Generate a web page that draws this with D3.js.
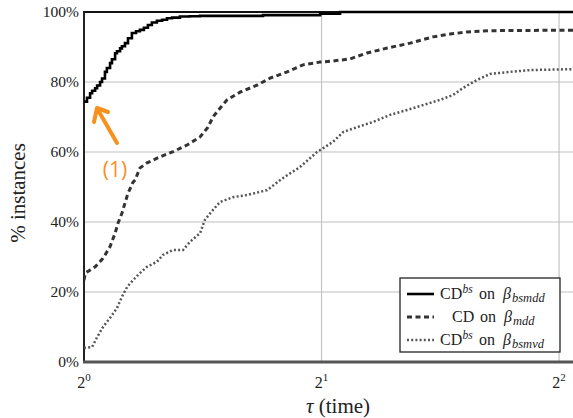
<!DOCTYPE html>
<html>
<head>
<meta charset="utf-8">
<script src="https://cdn.jsdelivr.net/npm/d3@7"></script>
<style>
  body { margin: 0; background: #fff; }
  svg { display: block; }
  text { font-family: "Liberation Serif", "DejaVu Serif", serif; fill: #222; }
</style>
</head>
<body>
<div id="root"></div>
<script>
// tau (time) vs % instances
const solidTau = [1, 1.0088, 1.018, 1.024, 1.033, 1.039, 1.048, 1.054, 1.063, 1.069, 1.079, 1.085, 1.095, 1.101, 1.111, 1.117, 1.127, 1.137, 1.150, 1.164, 1.177, 1.191, 1.205, 1.219, 1.237, 1.256, 1.274, 1.293, 1.323, 1.362, 1.403, 1.686, 1.992, 2.111, 4.19];
const solidPct = [74.4, 75.5, 76.8, 77.5, 78.2, 79, 80, 81, 82.9, 84, 85.4, 86.5, 88.2, 88.8, 89.6, 90.2, 91.1, 92.5, 94, 94.5, 94.9, 95.5, 96.3, 97, 97.5, 97.8, 98.2, 98.4, 98.7, 98.8, 98.9, 99.1, 99.5, 100, 100];

const dashTau = [1, 1.004, 1.033, 1.057, 1.079, 1.095, 1.104, 1.117, 1.127, 1.137, 1.154, 1.161, 1.177, 1.202, 1.248, 1.297, 1.351, 1.403, 1.436, 1.457, 1.487, 1.518, 1.577, 1.657, 1.721, 1.809, 1.895, 1.992, 2.068, 2.174, 2.284, 2.422, 2.590, 2.769, 2.910, 3.059, 3.204, 3.368, 4.19];
const dashPct = [23.4, 25.4, 27.2, 29.6, 33, 36.8, 39.6, 42.5, 45.4, 48.2, 51.4, 52, 55.4, 56.9, 58.6, 60.1, 62, 64.3, 67.1, 70, 72.5, 74.9, 77.1, 79.1, 81.1, 82.9, 84.9, 85.7, 86, 86.6, 88.3, 89.7, 91.1, 92.9, 93.7, 94.3, 94.6, 94.7, 94.8];

const dotTau = [1, 1.024, 1.039, 1.057, 1.079, 1.101, 1.117, 1.134, 1.154, 1.177, 1.202, 1.237, 1.259, 1.297, 1.335, 1.362, 1.403, 1.423, 1.445, 1.487, 1.545, 1.609, 1.671, 1.706, 1.788, 1.878, 1.974, 2.068, 2.130, 2.218, 2.325, 2.443, 2.567, 2.689, 2.826, 2.936, 3.023, 3.149, 3.270, 3.467, 3.675, 4.19];
const dotPct = [4, 4.3, 7.1, 10, 12.6, 15.4, 18.6, 21.4, 23.4, 25.4, 27.2, 28.6, 30.6, 32, 32, 34.3, 36.8, 40.6, 42.5, 45.7, 47.1, 47.7, 48.6, 49.1, 52.6, 55.7, 60, 62.9, 65.7, 67.1, 68.6, 70.6, 72, 73.4, 74.9, 76.3, 78.3, 80.6, 82.3, 82.9, 83.4, 83.7];

const xTicks = [1, 2, 4];
const yTicks = [0, 20, 40, 60, 80, 100];

const width = 573, height = 418;
const m = { left: 84, right: 575, top: 12, bottom: 362 };

const svg = d3.select("#root").append("svg")
  .attr("width", width).attr("height", height);

const x = d3.scaleLog().base(2).domain([1, 4.19]).range([m.left, m.right]);
const y = d3.scaleLinear().domain([0, 100]).range([m.bottom, m.top]);

// grid
svg.append("g").selectAll("line").data(yTicks.filter(d => d > 0 && d < 100)).join("line")
  .attr("x1", m.left).attr("x2", m.right)
  .attr("y1", d => y(d)).attr("y2", d => y(d))
  .attr("stroke", "#d4d4d4").attr("stroke-width", 1.5);
svg.append("g").selectAll("line").data(xTicks.filter(d => d > 1)).join("line")
  .attr("x1", d => x(d)).attr("x2", d => x(d))
  .attr("y1", m.top).attr("y2", m.bottom)
  .attr("stroke", "#c4c4c4").attr("stroke-width", 1.2);

// frame
svg.append("line").attr("x1", m.left).attr("x2", m.right).attr("y1", m.top).attr("y2", m.top)
  .attr("stroke", "#111").attr("stroke-width", 2);
svg.append("line").attr("x1", m.left).attr("x2", m.left).attr("y1", m.top - 1).attr("y2", m.bottom + 1)
  .attr("stroke", "#222").attr("stroke-width", 2);
svg.append("line").attr("x1", m.left - 1).attr("x2", m.right).attr("y1", m.bottom).attr("y2", m.bottom)
  .attr("stroke", "#555").attr("stroke-width", 3);

// tick labels
svg.append("g").selectAll("text").data(yTicks).join("text")
  .attr("x", m.left - 5).attr("y", d => y(d) + 5)
  .attr("text-anchor", "end").attr("font-size", 15.5)
  .text(d => d + "%");

const xl = svg.append("g").selectAll("text").data(xTicks).join("text")
  .attr("x", d => x(d)).attr("y", m.bottom + 26)
  .attr("text-anchor", "middle").attr("font-size", 16);
xl.append("tspan").text("2");
xl.append("tspan").attr("dy", -7).attr("font-size", 11).text(d => Math.log2(d));

// axis titles
const xt = svg.append("text").attr("x", 338).attr("y", 413)
  .attr("text-anchor", "middle").attr("font-size", 21);
xt.append("tspan").attr("font-style", "italic").text("τ");
xt.append("tspan").text(" (time)");

svg.append("text")
  .attr("transform", `translate(25,${193}) rotate(-90)`)
  .attr("text-anchor", "middle").attr("font-size", 21)
  .text("% instances");

// series
const series = [
  { tau: solidTau, pct: solidPct, color: "#000", w: 2.6, dash: null, curve: d3.curveStepAfter },
  { tau: dashTau, pct: dashPct, color: "#333", w: 3, dash: "5,3.5", curve: d3.curveLinear },
  { tau: dotTau, pct: dotPct, color: "#555", w: 2.5, dash: "2,2.2", curve: d3.curveLinear }
];

svg.append("defs").append("clipPath").attr("id", "plot")
  .append("rect").attr("x", m.left).attr("y", m.top - 3).attr("width", m.right - m.left).attr("height", m.bottom - m.top + 3);

const lines = svg.append("g").attr("clip-path", "url(#plot)");
for (const s of series) {
  const line = d3.line().curve(s.curve).x(i => x(s.tau[i])).y(i => y(s.pct[i]));
  lines.append("path")
    .attr("d", line(d3.range(s.tau.length)))
    .attr("fill", "none")
    .attr("stroke", s.color)
    .attr("stroke-width", s.w)
    .attr("stroke-dasharray", s.dash);
}

// annotation
const orange = "#f7901e";
svg.append("path")
  .attr("d", "M117,143 L98,110 M97,108 L94,122 M97,108 L108,112")
  .attr("stroke", orange).attr("stroke-width", 4).attr("fill", "none")
  .attr("stroke-linecap", "round");
svg.append("text").attr("x", 115).attr("y", 177)
  .attr("text-anchor", "middle").attr("font-size", 21)
  .style("font-family", "'Open Sans', 'DejaVu Sans', sans-serif")
  .style("fill", orange).text("(1)");

// legend
const lg = svg.append("g");
lg.append("rect").attr("x", 400).attr("y", 278).attr("width", 160).attr("height", 74)
  .attr("fill", "#fff").attr("stroke", "#222").attr("stroke-width", 1.3);

// offsets: [on, beta, subscript] from the start of "CD"
const legendItems = [
  { s: series[0], sup: "bs", sub: "bsmdd", tx: 440, off: [39, 63, 72] },
  { s: series[1], sup: null, sub: "mdd", tx: 452, off: [28, 52, 61] },
  { s: series[2], sup: "bs", sub: "bsmvd", tx: 440, off: [39, 63, 72] }
];
legendItems.forEach((d, i) => {
  const yy = 294 + i * 23;
  lg.append("line").attr("x1", 407).attr("x2", 434).attr("y1", yy).attr("y2", yy)
    .attr("stroke", d.s.color).attr("stroke-width", d.s.w).attr("stroke-dasharray", d.s.dash);
  const g = lg.append("g").attr("transform", `translate(${d.tx},${yy + 5})`);
  g.append("text").attr("font-size", 16).text("CD");
  if (d.sup) g.append("text").attr("x", 22.5).attr("y", -6).attr("font-size", 11.5).attr("font-style", "italic").text(d.sup);
  g.append("text").attr("x", d.off[0]).attr("font-size", 16).text("on");
  g.append("text").attr("x", d.off[1]).attr("font-size", 16).attr("font-style", "italic").text("β");
  g.append("text").attr("x", d.off[2]).attr("y", 3).attr("font-size", 12.5).attr("font-style", "italic").text(d.sub);
});
</script>
</body>
</html>
